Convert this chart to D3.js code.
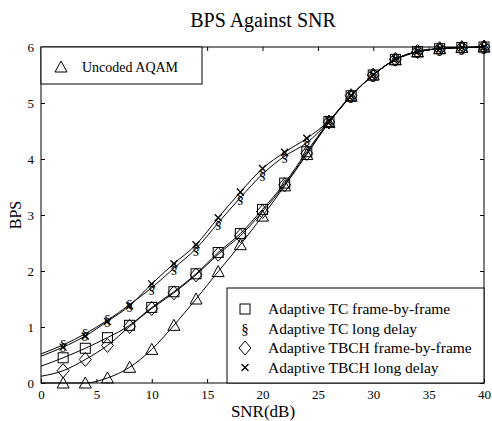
<!DOCTYPE html>
<html>
<head>
<meta charset="utf-8">
<script src="https://cdn.jsdelivr.net/npm/d3@7"></script>
<style>
  body { margin: 0; background: #fff; }
  text { font-family: "Liberation Serif", "DejaVu Serif", serif; fill: #000; }
</style>
</head>
<body>
<div id="svg-div"></div>
<script>
// SNR points (dB); first point only carries the line, markers start at 2 dB
const snr = [0, 2, 4, 6, 8, 10, 12, 14, 16, 18, 20, 22, 24, 26, 28, 30, 32, 34, 36, 38, 40];

const uncodedAqam = [0, 0, 0, 0.09, 0.28, 0.6, 1.03, 1.5, 1.99, 2.47, 2.98, 3.52, 4.08, 4.65, 5.12, 5.5, 5.77, 5.91, 5.97, 5.99, 6.0];
const tcFrame     = [0.3, 0.45, 0.62, 0.81, 1.03, 1.35, 1.63, 1.95, 2.33, 2.67, 3.1, 3.57, 4.13, 4.67, 5.13, 5.5, 5.78, 5.92, 5.97, 5.99, 6.0];
const tcLong      = [0.52, 0.68, 0.88, 1.12, 1.4, 1.7, 2.05, 2.4, 2.86, 3.31, 3.73, 4.05, 4.29, 4.67, 5.13, 5.5, 5.78, 5.92, 5.97, 5.99, 6.0];
const tbchFrame   = [0.12, 0.22, 0.42, 0.67, 1.01, 1.33, 1.61, 1.93, 2.3, 2.63, 3.06, 3.54, 4.1, 4.66, 5.13, 5.5, 5.78, 5.92, 5.97, 5.99, 6.0];
const tbchLong    = [0.48, 0.64, 0.84, 1.1, 1.38, 1.77, 2.13, 2.47, 2.95, 3.41, 3.83, 4.12, 4.37, 4.68, 5.13, 5.5, 5.78, 5.92, 5.97, 5.99, 6.0];

const xTicks = [0, 5, 10, 15, 20, 25, 30, 35, 40];
const yTicks = [0, 1, 2, 3, 4, 5, 6];

const series = [
    {name: 'Adaptive TC frame-by-frame', values: tcFrame, marker: 'square'},
    {name: 'Adaptive TC long delay', values: tcLong, marker: 'section'},
    {name: 'Adaptive TBCH frame-by-frame', values: tbchFrame, marker: 'diamond'},
    {name: 'Adaptive TBCH long delay', values: tbchLong, marker: 'cross'},
    {name: 'Uncoded AQAM', values: uncodedAqam, marker: 'triangle'}
];

const width = 492;
const height = 421;
const plotLeft = 41, plotRight = 484, plotTop = 47, plotBottom = 383;

const xScale = d3.scaleLinear().domain([0, 40]).range([plotLeft, plotRight]);
const yScale = d3.scaleLinear().domain([0, 6]).range([plotBottom, plotTop]);

const svg = d3.select('#svg-div')
              .append('svg')
                .attr('width', width)
                .attr('height', height);

// draw one marker centred at (x, y)
function drawMarker(g, type, x, y) {
    if (type == 'square') {
        g.append('rect')
            .attr('x', x - 5).attr('y', y - 5)
            .attr('width', 10).attr('height', 10)
            .attr('fill', 'none').attr('stroke', '#000').attr('stroke-width', 1);
    } else if (type == 'diamond') {
        g.append('path')
            .attr('d', `M${x},${y - 7}L${x + 6},${y}L${x},${y + 7}L${x - 6},${y}Z`)
            .attr('fill', 'none').attr('stroke', '#000').attr('stroke-width', 1);
    } else if (type == 'triangle') {
        g.append('path')
            .attr('d', `M${x},${y - 6}L${x + 6},${y + 5}L${x - 6},${y + 5}Z`)
            .attr('fill', 'none').attr('stroke', '#000').attr('stroke-width', 1);
    } else if (type == 'cross') {
        g.append('path')
            .attr('d', `M${x - 3.5},${y - 3.5}L${x + 3.5},${y + 3.5}M${x - 3.5},${y + 3.5}L${x + 3.5},${y - 3.5}`)
            .attr('fill', 'none').attr('stroke', '#000').attr('stroke-width', 1.3);
    } else if (type == 'section') {
        g.append('text')
            .attr('x', x).attr('y', y + 5)
            .attr('text-anchor', 'middle')
            .attr('font-size', 15)
            .text('§');
    }
}

// frame
svg.append('rect')
    .attr('x', plotLeft).attr('y', plotTop)
    .attr('width', plotRight - plotLeft).attr('height', plotBottom - plotTop)
    .attr('fill', 'none').attr('stroke', '#000').attr('stroke-width', 1);

// axes with inward ticks
svg.append('g')
    .attr('transform', `translate(0, ${plotBottom})`)
    .call(d3.axisBottom(xScale).tickValues(xTicks).tickFormat(d3.format('d'))
            .tickSizeInner(-4).tickSizeOuter(0).tickPadding(7))
    .call(g => g.select('.domain').remove())
    .call(g => g.selectAll('text').attr('font-size', 13).attr('font-family', '"Liberation Serif", serif'));

svg.append('g')
    .attr('transform', `translate(0, ${plotTop})`)
    .call(d3.axisTop(xScale).tickValues(xTicks).tickSizeInner(-4).tickSizeOuter(0).tickFormat(''))
    .call(g => g.select('.domain').remove());

svg.append('g')
    .attr('transform', `translate(${plotLeft}, 0)`)
    .call(d3.axisLeft(yScale).tickValues(yTicks).tickFormat(d3.format('d'))
            .tickSizeInner(-4).tickSizeOuter(0).tickPadding(7))
    .call(g => g.select('.domain').remove())
    .call(g => g.selectAll('text').attr('font-size', 13).attr('font-family', '"Liberation Serif", serif'));

svg.append('g')
    .attr('transform', `translate(${plotRight}, 0)`)
    .call(d3.axisRight(yScale).tickValues(yTicks).tickSizeInner(-4).tickSizeOuter(0).tickFormat(''))
    .call(g => g.select('.domain').remove());

// title and axis labels
svg.append('text')
    .attr('x', 263).attr('y', 27)
    .attr('text-anchor', 'middle')
    .attr('font-size', 20)
    .text('BPS Against SNR');

svg.append('text')
    .attr('x', 263).attr('y', 417)
    .attr('text-anchor', 'middle')
    .attr('font-size', 17)
    .text('SNR(dB)');

svg.append('text')
    .attr('transform', 'translate(21, 215) rotate(-90)')
    .attr('text-anchor', 'middle')
    .attr('font-size', 16)
    .text('BPS');

// curves
const line = d3.line()
               .x((d, i) => xScale(snr[i]))
               .y(d => yScale(d))
               .curve(d3.curveMonotoneX);

series.forEach(function(s) {
    svg.append('path')
        .attr('d', line(s.values))
        .attr('fill', 'none')
        .attr('stroke', '#000')
        .attr('stroke-width', 1);
});
const marks = svg.append('g');
series.forEach(function(s) {
    s.values.forEach(function(v, i) {
        if (snr[i] == 0) return;
        drawMarker(marks, s.marker, xScale(snr[i]), yScale(v));
    });
});

// legend: uncoded
svg.append('rect')
    .attr('x', plotLeft).attr('y', plotTop)
    .attr('width', 161).attr('height', 37)
    .attr('fill', '#fff').attr('stroke', '#000').attr('stroke-width', 1);
drawMarker(svg, 'triangle', 61, 67);
svg.append('text')
    .attr('x', 82).attr('y', 72)
    .attr('font-size', 14)
    .text('Uncoded AQAM');

// legend: adaptive schemes
const legend = svg.append('g');
legend.append('rect')
    .attr('x', 227).attr('y', 288)
    .attr('width', plotRight - 227).attr('height', plotBottom - 288)
    .attr('fill', '#fff').attr('stroke', '#000').attr('stroke-width', 1);
series.slice(0, 4).forEach(function(s, i) {
    const y = 309 + i * 19.5;
    drawMarker(legend, s.marker, 245, y);
    legend.append('text')
        .attr('x', 268).attr('y', y + 5)
        .attr('font-size', 15.5)
        .text(s.name);
});
</script>
</body>
</html>
